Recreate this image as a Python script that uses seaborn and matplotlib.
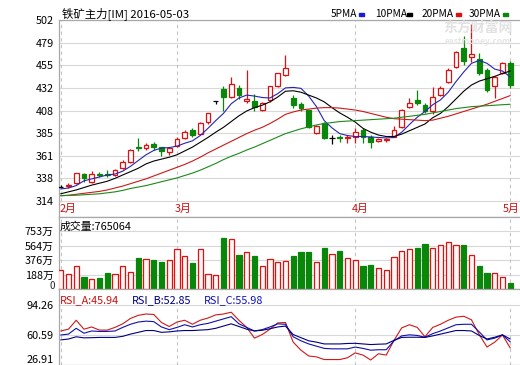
import numpy as np
import pandas as pd
import matplotlib
matplotlib.use("Agg")
import matplotlib.pyplot as plt
from matplotlib.patches import Rectangle
import seaborn as sns

# ---- data (one entry per trading day) ----
month_labels = ["2月", "3月", "4月", "5月"]
month_pos = [0, 15, 38, 58]

opens = [329, 330, 333, 342, 334, 342, 342.5, 341, 348, 355,
         370, 369, 373, 370, 365, 371, 379, 388, 384, 396,
         418, 430, 422, 431, 418, 418, 408.5, 419, 433.5, 445,
         421, 414.5, 408.5, 385, 395, 379, 380.5, 379.5, 381, 388,
         381, 376, 377.5, 381, 391, 412, 419, 414, 407, 424,
         438, 453.5, 473, 464, 462, 450, 433, 447, 457]
highs = [331, 333, 343.5, 343.5, 345, 344, 346, 347, 357, 368,
         379, 374, 375.5, 370.5, 370, 380, 388, 389.5, 396, 405.5,
         418, 433, 443, 434, 450, 425, 417, 433.5, 447, 466,
         424, 417, 409, 393, 396.5, 383, 383, 383, 390, 390,
         383, 379, 379, 392, 410, 420.5, 429, 416, 432.5, 433,
         452, 470, 485, 498, 467.5, 452, 444, 458, 459]
lows = [327, 327.5, 332, 334, 333, 339, 339, 340, 347, 354,
        366, 367, 367.5, 361, 361.5, 370, 378, 380.5, 383.5, 394,
        414.5, 407, 421, 420, 416, 407, 407, 417, 432, 444,
        411, 407, 389.5, 384, 378, 373, 375.5, 374, 374, 374,
        369, 375, 375, 380, 390, 410.5, 413.5, 405, 404, 423,
        437, 452, 455, 458, 444.5, 427.5, 421.5, 446, 431]
closes = [329, 331, 343, 338, 342, 341, 341.5, 346, 355, 367,
          369, 372, 370, 366, 369, 378, 386, 383, 395, 405,
          418, 422, 435.5, 424, 420, 412, 415.5, 433, 446.5, 452,
          414, 411, 390.5, 392, 379, 379, 379.5, 380.5, 386, 381,
          375, 378, 378.5, 388, 408.5, 415.5, 416, 407, 422.5, 431,
          450, 469, 459, 467, 447, 429, 443, 457, 434.5]

ma5 = [326.5, 327.5, 330, 335, 337, 339, 341, 342, 345, 350,
       356, 362, 366.5, 369, 369.5, 371, 374, 376.5, 382, 389.5,
       397.5, 405, 415, 421, 424, 423, 421.5, 421, 425.5, 431.5,
       432, 431, 423, 412, 397.5, 390, 384, 382, 381, 381,
       380.5, 380, 379.5, 380, 385.5, 393.5, 401, 407, 414, 419,
       427, 438, 448, 457, 460, 457, 451, 449, 443]
ma10 = [321.5, 323.5, 325.5, 328, 330.5, 332.5, 334.5, 337.5, 341, 344.5,
        348, 352.5, 355.5, 357.5, 359.5, 362, 366, 370, 375, 380,
        385.5, 390.5, 396.5, 402.5, 407.5, 411, 413.5, 417, 422, 428,
        428.5, 427, 424, 421, 417, 411, 405.5, 401, 396, 389.5,
        385.5, 382.5, 381, 381, 383.5, 387, 390.5, 394, 400.5, 405,
        412, 420, 428, 434.5, 438.5, 441, 443.5, 446.5, 449]
ma20 = [319.5, 320, 321, 322, 323, 324, 325.5, 327.5, 329.5, 332,
        334.5, 337, 340, 343, 346, 349, 352, 355.5, 359.5, 364,
        368, 372, 376, 380, 384, 387.5, 390.5, 394.5, 399, 404,
        406.5, 408.5, 409.5, 410.5, 411, 411, 410.5, 409.5, 408.5, 407,
        405, 403, 401, 399.5, 399, 398.5, 398, 397.5, 398, 400,
        402, 404.5, 407, 409.5, 412, 414.5, 417.5, 420.5, 423.5]
ma30 = [319.5, 319.8, 320, 320.5, 321, 321.5, 322.5, 323.5, 325, 327,
        328.5, 330, 332, 334, 336, 338, 340.5, 343, 346, 349.5,
        353, 357, 360.5, 363.5, 367, 370, 373.5, 377, 380.5, 384,
        386.5, 389, 391, 393, 394.5, 395.5, 396.5, 397, 397.5, 398,
        398.5, 399, 399.5, 400, 401, 402, 403, 404, 405.5, 407,
        408.5, 410, 411, 412, 412.5, 413, 413.5, 414, 414.5]

# volume in 万
volume = [248, 192, 300, 161, 131, 148, 213, 196, 300, 218,
          409, 396, 383, 357, 379, 522, 431, 344, 522, 196,
          183, 670, 653, 444, 479, 431, 300, 392, 352, 365,
          431, 483, 483, 352, 535, 457, 496, 405, 379, 300,
          313, 274, 248, 418, 496, 522, 535, 587, 535, 574,
          613, 574, 574, 444, 300, 209, 209, 157, 76.5]

rsi_a = [65, 67, 77, 67, 69.5, 66, 66, 69, 73, 79,
         82.5, 84, 83.5, 74.5, 70, 75, 77, 72.5, 77, 79.5,
         83, 84, 86, 77, 69, 57, 61, 67, 74, 74.5,
         52.5, 43.5, 37, 36, 33, 33, 33, 35, 40.5, 38,
         32.5, 39.5, 38, 54.5, 68.5, 72, 69, 58.5, 69, 72.5,
         77, 80.5, 81.5, 77.5, 61, 47, 52.5, 60.5, 45.94]
rsi_b = [60.5, 61.5, 68, 62.5, 65, 64.5, 64.5, 65, 69, 72.5,
         75, 76, 75.5, 69.5, 66.5, 69, 72, 69.5, 72, 73.5,
         76, 78.5, 81, 73, 69, 65, 66.5, 69.5, 73, 72.5,
         58.5, 54, 50.5, 48, 45.5, 45, 45, 45, 47, 45.5,
         43.5, 44, 44, 54, 59.5, 60.7, 60, 58, 62, 65,
         68.5, 72, 72.5, 72.5, 64, 55, 57, 60.5, 52.85]
rsi_c = [55, 56, 58.5, 57.3, 57.5, 57.8, 57.8, 57.8, 59, 61.5,
         63.5, 65.5, 65.5, 63.5, 64, 65, 65.5, 65.5, 66, 66.5,
         68, 70.5, 73, 70, 67, 65, 65.8, 67.5, 69.5, 70.5,
         61, 57.5, 54, 52.5, 50.5, 50.5, 50.5, 51, 51.2, 50.5,
         49.8, 50.2, 50.5, 54.5, 57.8, 58, 58, 57.8, 59.5, 61.5,
         63.5, 65.5, 65.5, 65, 60, 56, 58, 60.7, 55.98]

price_ticks = [314, 337.5, 361, 384.5, 408, 431.5, 455, 478.5, 502]
price_labels = ["314", "338", "361", "385", "408", "432", "455", "479", "502"]
vol_ticks = [188.25, 376.5, 564.75, 753]
vol_labels = ["188万", "376万", "564万", "753万"]
rsi_ticks = [26.91, 60.59, 94.26]
rsi_labels = ["26.91", "60.59", "94.26"]

df = pd.DataFrame({"open": opens, "high": highs, "low": lows, "close": closes,
                   "ma5": ma5, "ma10": ma10, "ma20": ma20, "ma30": ma30,
                   "vol": volume, "rsi_a": rsi_a, "rsi_b": rsi_b, "rsi_c": rsi_c})
df["idx"] = np.arange(len(df))

RED = "#e01010"
GREEN = "#0a860a"
GRID = "#d8d8d8"
FRAME = "#a8a8a8"
FS = 7.8

sns.set_theme(style="white")
plt.rcParams["font.family"] = ["Noto Sans CJK SC", "DejaVu Sans"]

W, H = 520, 365
fig = plt.figure(figsize=(W / 100, H / 100), dpi=100)
fig.patch.set_facecolor("white")


def fx(px):
    return px / W


def fy(py):
    return 1 - py / H


left = 59.3
x0 = -0.18
x1 = 59.26
ax = fig.add_axes([fx(left), fy(217), 1 - fx(left), fy(20) - fy(217)])
axv = fig.add_axes([fx(left), fy(289), 1 - fx(left), fy(217) - fy(289)])
axr = fig.add_axes([fx(left), 0, 1 - fx(left), fy(289)])

for a in (ax, axv, axr):
    a.set_facecolor("white")
    a.set_xlim(x0, x1)
    a.set_xticks([])
    for s in a.spines.values():
        s.set_color(FRAME)
        s.set_linewidth(0.9)
    a.spines["right"].set_visible(False)
    a.tick_params(axis="y", length=0, pad=4, labelsize=FS, labelcolor="black")

# ---- price panel ----
ax.set_ylim(297.4, 502)
ax.set_yticks(price_ticks)
ax.set_yticklabels(price_labels)
ax.hlines(price_ticks, x0, x1, colors=GRID, linewidth=0.8, zorder=0)
ax.vlines(month_pos, 314, 502, colors="#c4c4c4", linewidth=0.8,
          linestyles=(0, (3, 3)), zorder=0)

colors = []
for o, c in zip(opens, closes):
    if c > o:
        colors.append(RED)
    elif c < o:
        colors.append(GREEN)
    else:
        colors.append("black")

ax.vlines(df["idx"], df["low"], df["high"], colors=colors, linewidth=0.9, zorder=2)
body_lo = df[["open", "close"]].min(axis=1)
body_h = (df["close"] - df["open"]).abs()
for i in range(len(df)):
    if colors[i] == "black":
        ax.hlines(closes[i], i - 0.33, i + 0.33, colors="black", linewidth=0.9, zorder=3)
    elif colors[i] == RED:
        ax.bar(i, body_h[i], bottom=body_lo[i], width=0.62, facecolor="white",
               edgecolor=RED, linewidth=0.9, zorder=3)
    else:
        ax.bar(i, body_h[i], bottom=body_lo[i], width=0.62, facecolor=GREEN,
               edgecolor=GREEN, linewidth=0.9, zorder=3)

ma_colors = {"ma5": "#2424b4", "ma10": "#000000", "ma20": "#cc1818", "ma30": "#1a8a1a"}
for col, clr in ma_colors.items():
    sns.lineplot(data=df, x="idx", y=col, ax=ax, color=clr, linewidth=0.8, zorder=4)
ax.set_xlabel("")
ax.set_ylabel("")
ax.set_xlim(x0, x1)

label_shift = [-0.2, -0.3, -0.5, -1.0]
for pos, lab, sh in zip(month_pos, month_labels, label_shift):
    ax.text(pos + sh, 306.2, lab, color="#cc1010", fontsize=FS,
            ha="left", va="center")

# ---- volume panel ----
vol_colors = [GREEN if c < o else RED for o, c in zip(opens, closes)]
axv.set_ylim(0, 940)
axv.set_yticks(vol_ticks)
axv.set_yticklabels(vol_labels)
axv.hlines(vol_ticks, x0, x1, colors=GRID, linewidth=0.8, zorder=0)
axv.vlines(month_pos, 0, 940, colors="#c4c4c4", linewidth=0.8,
           linestyles=(0, (3, 3)), zorder=0)
for i in range(len(df)):
    if vol_colors[i] == RED:
        axv.bar(i, volume[i], width=0.68, facecolor="#fff6f6", edgecolor=RED,
                linewidth=0.9, zorder=3)
    else:
        axv.bar(i, volume[i], width=0.68, facecolor=GREEN, edgecolor=GREEN,
                linewidth=0.9, zorder=3)
# the zero label sits tight against the panel floor, as in the source
fig.text(fx(55), fy(286), "0", fontsize=7, ha="right", va="center")
axv.text(0.0, 0.87, "成交量:765064", transform=axv.transAxes, fontsize=FS,
         ha="left", va="center", color="black")

# ---- RSI panel ----
axr.set_ylim(26.91, 112)
axr.set_yticks(rsi_ticks)
axr.set_yticklabels(rsi_labels)
axr.hlines(rsi_ticks[1:], x0, x1, colors=GRID, linewidth=0.8, zorder=0)
axr.vlines(month_pos, 26.91, 94.26, colors="#c4c4c4", linewidth=0.8,
           linestyles=(0, (3, 3)), zorder=0)
sns.lineplot(data=df, x="idx", y="rsi_a", ax=axr, color="#d01818", linewidth=0.8)
sns.lineplot(data=df, x="idx", y="rsi_b", ax=axr, color="#1010b0", linewidth=0.8)
sns.lineplot(data=df, x="idx", y="rsi_c", ax=axr, color="#000080", linewidth=0.8)
axr.set_xlabel("")
axr.set_ylabel("")
axr.set_xlim(x0, x1)
axr.get_yticklabels()[0].set_va("bottom")

fig.text(fx(60), fy(300), "RSI_A:45.94", color="#cc1010", fontsize=FS, va="center")
fig.text(fx(131.5), fy(300), "RSI_B:52.85", color="#000080", fontsize=FS, va="center")
fig.text(fx(204), fy(300), "RSI_C:55.98", color="#1010c0", fontsize=FS, va="center")

# ---- header ----
fig.text(fx(62), fy(14), "铁矿主力[IM] 2016-05-03", fontsize=8.2, va="center", color="black")
legend_items = [("5PMA", 331, 359, "#1c1cd8"), ("10PMA", 375, 407, "black"),
                ("20PMA", 422, 456, "#dd1010"), ("30PMA", 469, 503, "#0a860a")]
for lab, tx, bx, clr in legend_items:
    fig.text(fx(tx), fy(14), lab, fontsize=7.3, va="center", color="black")
    fig.add_artist(Rectangle((fx(bx), fy(15.5)), 5 / W, 3 / H,
                             transform=fig.transFigure, color=clr))

# faint watermark
fig.text(fx(443), fy(28), "东方财富网", fontsize=10, color="#e2e2e2",
         fontweight="bold", va="center")
fig.text(fx(445), fy(42), "eastmoney.com", fontsize=6, color="#e6e6e6",
         fontweight="bold", va="center")

fig.savefig("out.png", dpi=100, facecolor="white")
